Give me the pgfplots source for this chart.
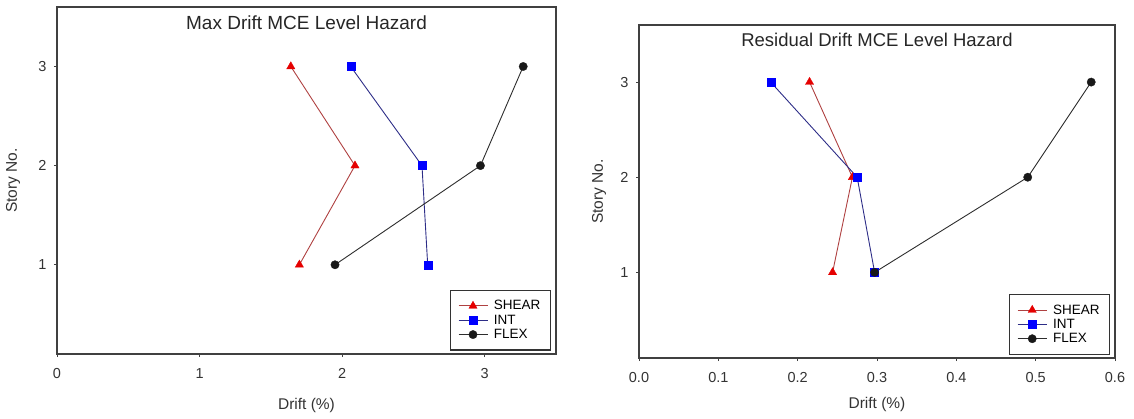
\documentclass[border=0pt]{standalone}
\usepackage{fontspec}
\setmainfont{Liberation Sans}
\usepackage{pgfplots}
\pgfplotsset{compat=1.18}
\definecolor{shearline}{RGB}{175,65,65}
\definecolor{intline}{RGB}{45,45,135}
\definecolor{flexline}{RGB}{45,45,45}
\begin{document}
\begin{tikzpicture}
\path (0pt,0pt) rectangle (1134pt,418pt);
\pgfplotsset{
 common/.style={
  scale only axis, anchor=south west,
  ymin=0.1, ymax=3.6, ytick={1,2,3},
  tick align=outside, xtick pos=bottom, ytick pos=left,
  major tick length=3pt,
  every tick/.style={black!75, line width=0.8pt},
  axis line style={black!75, line width=1.2pt},
  /pgf/number format/assume math mode=true,
  tick label style={font=\fontsize{14.5}{16}\selectfont, text=black!80},
  xticklabel style={yshift=-8pt},
  yticklabel style={xshift=-4pt},
  label style={font=\fontsize{15.5}{17}\selectfont, text=black!80},
  title style={text=black!85, at={(0.5,0.937)}, anchor=center},
  legend style={at={(0.99,0.01)}, anchor=south east, font=\fontsize{13.5}{14.5}\selectfont,
    draw=black!80, line width=1.1pt, inner xsep=8pt, inner ysep=8pt, row sep=-0.5pt,
    /tikz/every odd column/.append style={column sep=4pt}},
  legend cell align=left,
  legend image code/.code={\draw[mark repeat=2,mark phase=2] plot coordinates {(0pt,0pt) (14.5pt,0pt) (29pt,0pt)};},
  legend image post style={line width=0.9pt},
  every axis plot/.append style={line width=0.9pt},
 },
 shear/.style={color=shearline, mark=triangle*, mark size=4.8pt, mark options={fill=red!90!black, draw=red!90!black, line width=0.3pt}},
 int/.style={color=intline, mark=square*, mark size=4pt, mark options={fill=blue, draw=blue, line width=0.3pt}},
 flex/.style={color=flexline, mark=*, mark size=4.2pt, mark options={fill=black!90, draw=black!90, line width=0.3pt}},
}
\begin{axis}[common, at={(57pt,64pt)}, width=499pt, height=347pt,
  xmin=0, xmax=3.5, xtick={0,1,2,3},
  title={Max Drift MCE Level Hazard},
  title style={font=\fontsize{19}{21}\selectfont},
  xlabel={Drift (\%)}, ylabel={Story No.},
  xlabel style={at={(axis description cs:0.5,-0.147)}, anchor=center},
  ylabel style={at={(axis description cs:-0.088,0.5)}, anchor=center}]
\addplot[shear] coordinates {(1.64,3) (2.09,2) (1.70,1)};
\addlegendentry{SHEAR}
\addplot[int] coordinates {(2.06,3) (2.56,2) (2.60,1)};
\addlegendentry{INT}
\addplot[flex] coordinates {(3.27,3) (2.97,2) (1.95,1)};
\addlegendentry{FLEX}
\end{axis}
\begin{axis}[common, at={(639pt,60pt)}, width=476pt, height=333pt,
  xmin=0, xmax=0.6, xtick={0,0.1,...,0.6},
  xticklabel style={/pgf/number format/.cd, fixed, fixed zerofill, precision=1},
  title={Residual Drift MCE Level Hazard},
  title style={font=\fontsize{18.5}{21}\selectfont},
  xlabel={Drift (\%)}, ylabel={Story No.},
  xlabel style={at={(axis description cs:0.5,-0.141)}, anchor=center},
  ylabel style={at={(axis description cs:-0.084,0.5)}, anchor=center}]
\addplot[shear] coordinates {(0.215,3) (0.269,2) (0.244,1)};
\addlegendentry{SHEAR}
\addplot[int] coordinates {(0.166,3) (0.275,2) (0.297,1)};
\addlegendentry{INT}
\addplot[flex] coordinates {(0.57,3) (0.49,2) (0.297,1)};
\addlegendentry{FLEX}
\end{axis}
\end{tikzpicture}
\end{document}
